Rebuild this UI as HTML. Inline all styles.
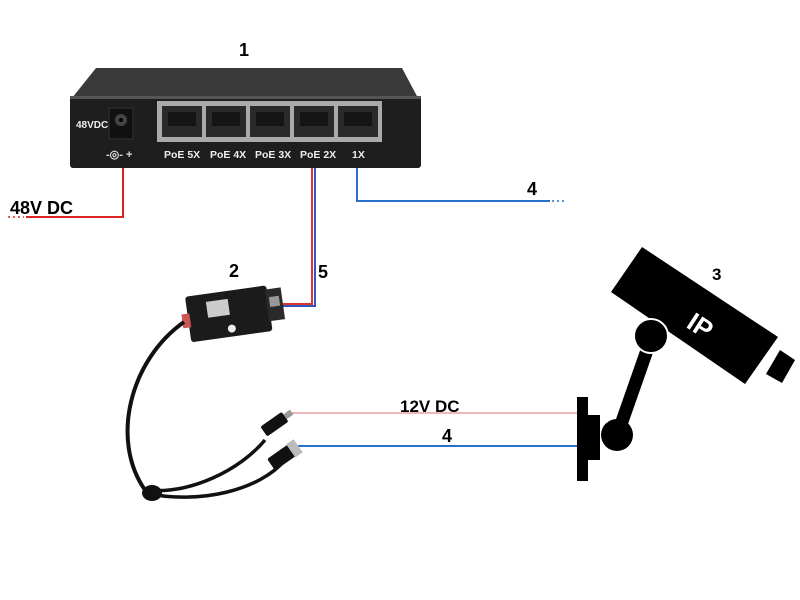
<!DOCTYPE html>
<html><head><style>
body{margin:0;background:#fff;width:800px;height:600px;overflow:hidden}
svg{display:block}
text{font-family:"Liberation Sans",Arial,sans-serif;font-weight:bold}
</style></head><body>
<svg width="800" height="600" viewBox="0 0 800 600">
<!-- switch top -->
<polygon points="96,68 402,68 418,98 72,98" fill="#3a3a3a"/>
<rect x="70" y="96" width="351" height="72" rx="3" fill="#1e1e1e"/>
<rect x="70" y="96" width="351" height="3" fill="#555"/>
<!-- power jack -->
<rect x="109" y="108" width="24" height="31" fill="#111" stroke="#333"/>
<circle cx="121" cy="120" r="6" fill="#444"/>
<circle cx="121" cy="120" r="2" fill="#000"/>
<text x="76" y="128" font-size="10" fill="#eee">48VDC</text>
<text x="106" y="158" font-size="11" fill="#ddd">-◎- +</text>
<!-- port panel -->
<rect x="157" y="101" width="225" height="41" fill="#aaa"/>
<g fill="#2a2a2a">
<rect x="162" y="106" width="40" height="31"/>
<rect x="206" y="106" width="40" height="31"/>
<rect x="250" y="106" width="40" height="31"/>
<rect x="294" y="106" width="40" height="31"/>
<rect x="338" y="106" width="40" height="31"/>
</g>
<g fill="#151515">
<rect x="168" y="112" width="28" height="14"/>
<rect x="212" y="112" width="28" height="14"/>
<rect x="256" y="112" width="28" height="14"/>
<rect x="300" y="112" width="28" height="14"/>
<rect x="344" y="112" width="28" height="14"/>
</g>
<g fill="#eee" font-size="10.5">
<text x="164" y="158">PoE 5X</text>
<text x="210" y="158">PoE 4X</text>
<text x="255" y="158">PoE 3X</text>
<text x="300" y="158">PoE 2X</text>
<text x="352" y="158">1X</text>
</g>
<!-- labels -->
<g font-size="18" fill="#000">
<text x="239" y="56">1</text>
<text x="229" y="277">2</text>
<text x="318" y="278">5</text>
<text x="527" y="195">4</text>
<text x="712" y="280" font-size="17">3</text>
<text x="442" y="442">4</text>
<text x="10" y="214">48V DC</text>
<text x="400" y="412" font-weight="normal" font-size="17">12V DC</text>
</g>
<!-- red 48V line -->
<polyline points="123,168 123,217 26,217" fill="none" stroke="#d22" stroke-width="2"/>
<line x1="8" y1="217" x2="24" y2="217" stroke="#d22" stroke-width="1.5" stroke-dasharray="2,3"/>
<!-- blue line 1X -->
<polyline points="357,168 357,201 550,201" fill="none" stroke="#2a6fc9" stroke-width="2"/>
<line x1="552" y1="201" x2="566" y2="201" stroke="#2a6fc9" stroke-width="1.5" stroke-dasharray="2,3"/>
<!-- line 5 -->
<polyline points="312,168 312,304 283,304" fill="none" stroke="#d33" stroke-width="2"/>
<polyline points="315,168 315,306 283,306" fill="none" stroke="#3354b8" stroke-width="2"/>
<!-- 12V and 4 lines -->
<line x1="290" y1="413" x2="578" y2="413" stroke="#e9a0a0" stroke-width="1.5"/>
<line x1="298" y1="446" x2="578" y2="446" stroke="#2a6fc9" stroke-width="2"/>
<!-- adapter -->
<g transform="rotate(-8 235 315)">
<rect x="188" y="290" width="82" height="46" rx="3" fill="#1b1b1b"/>
<rect x="268" y="294" width="16" height="32" fill="#2a2a2a"/>
<rect x="271" y="302" width="10" height="10" fill="#999"/>
<rect x="208" y="298" width="22" height="16" fill="#ccc"/>
<rect x="182" y="307" width="8" height="14" fill="#c55"/>
<circle cx="230" cy="328" r="4" fill="#eee"/>
</g>
<!-- cables -->
<path d="M184 322 C130 360 110 440 145 490" fill="none" stroke="#111" stroke-width="4"/>
<path d="M145 490 C190 495 240 470 265 440" fill="none" stroke="#111" stroke-width="3.5"/>
<path d="M145 493 C200 505 260 490 285 460" fill="none" stroke="#111" stroke-width="3.5"/>
<ellipse cx="152" cy="493" rx="10" ry="8" fill="#111"/>
<g transform="rotate(-35 275 425)"><rect x="262" y="418" width="26" height="12" rx="2" fill="#111"/><rect x="288" y="421" width="8" height="6" fill="#999"/></g>
<g transform="rotate(-35 285 455)"><rect x="268" y="448" width="26" height="14" rx="2" fill="#111"/><rect x="292" y="447" width="9" height="16" fill="#bbb"/></g>
<!-- camera -->
<rect x="577" y="397" width="11" height="84" fill="#000"/>
<rect x="588" y="415" width="12" height="45" fill="#000"/>
<line x1="618" y1="433" x2="652" y2="336" stroke="#000" stroke-width="13"/>
<circle cx="617" cy="435" r="16" fill="#000"/>
<polygon points="611,292 642,247 778,337 745,384" fill="#000"/>
<circle cx="651" cy="336" r="17" fill="#000" stroke="#fff" stroke-width="2"/>
<polygon points="780,350 795,360 782,383 766,374" fill="#000"/>
<text x="690" y="334" font-size="26" fill="#fff" transform="rotate(33 700 322)">IP</text>
</svg>
</body></html>
